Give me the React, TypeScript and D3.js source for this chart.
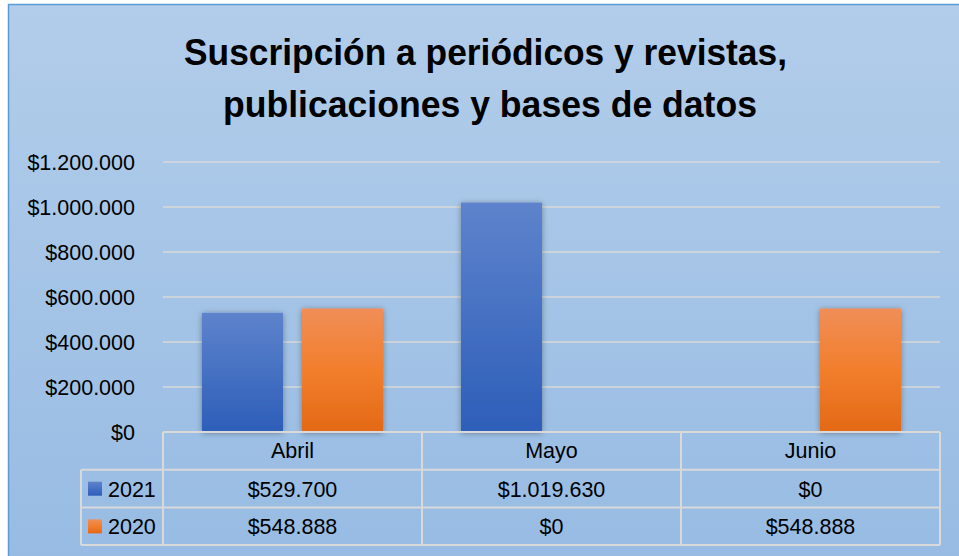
import React from "react";
import * as d3 from "d3";

const categories = ["Abril", "Mayo", "Junio"];
const seriesNames = ["2021", "2020"];
const values2021 = [529700, 1019630, 0];
const values2020 = [548888, 0, 548888];
const yTicks = [0, 200000, 400000, 600000, 800000, 1000000, 1200000];
const titleLines = ["Suscripción a periódicos y revistas,", "publicaciones y bases de datos"];

const W = 959;
const H = 556;
const plotLeft = 163;
const plotRight = 940;
const plotTop = 162;
const plotBottom = 432;
const rowH = 37.7;
const legendLeft = 81;

const locale = d3.formatLocale({ decimal: ",", thousands: ".", grouping: [3], currency: ["$", ""] });
const fmt = locale.format("$,.0f");

const FONT = "'Liberation Sans', Arial, sans-serif";

export default function App() {
  const x = d3.scaleBand<string>().domain(categories).range([plotLeft, plotRight]).paddingInner(0).paddingOuter(0);
  const sub = d3.scaleBand<string>().domain(seriesNames).range([39, x.bandwidth() - 39]).paddingInner(0.19).paddingOuter(0);
  const y = d3.scaleLinear().domain([0, 1200000]).range([plotBottom, plotTop]);

  const seriesValues: Record<string, number[]> = { "2021": values2021, "2020": values2020 };
  const grad: Record<string, string> = { "2021": "url(#gBlue)", "2020": "url(#gOrange)" };

  const rows = [plotBottom, plotBottom + rowH, plotBottom + 2 * rowH, plotBottom + 3 * rowH];
  const lineColor = "#d9d9d9";

  return (
    <svg width={W} height={H} style={{ position: "absolute", left: 0, top: 0 }} fontFamily={FONT}>
      <defs>
        <linearGradient id="bg" x1="0" y1="0" x2="0" y2="1">
          <stop offset="0" stopColor="#b2cdea" />
          <stop offset="1" stopColor="#97bbe3" />
        </linearGradient>
        <linearGradient id="gBlue" x1="0" y1="0" x2="0" y2="1">
          <stop offset="0" stopColor="#5e83cc" />
          <stop offset="1" stopColor="#2d5eb9" />
        </linearGradient>
        <linearGradient id="gOrange" x1="0" y1="0" x2="0" y2="1">
          <stop offset="0" stopColor="#f08e58" />
          <stop offset="0.5" stopColor="#f27e2c" />
          <stop offset="1" stopColor="#e36915" />
        </linearGradient>
        <filter id="shadow" x="-30%" y="-10%" width="160%" height="120%">
          <feDropShadow dx="0" dy="1" stdDeviation="3" floodColor="#000" floodOpacity="0.35" />
        </filter>
      </defs>

      <rect x={0} y={0} width={W} height={H} fill="#ffffff" />
      <rect x={8.5} y={4.5} width={W + 10} height={H + 10} fill="url(#bg)" stroke="#5b9bd5" strokeWidth={1.5} />

      {titleLines.map((t, i) => (
        <text
          key={t}
          x={i === 0 ? 184 : 223}
          y={i === 0 ? 64.5 : 116.7}
          fontSize={36}
          fontWeight="bold"
          fill="#000"
          textLength={i === 0 ? 603 : 534}
          lengthAdjust="spacingAndGlyphs"
        >
          {t}
        </text>
      ))}

      {yTicks.filter((t) => t > 0).map((t) => (
        <line key={"g" + t} x1={plotLeft} x2={plotRight} y1={y(t)} y2={y(t)} stroke={lineColor} strokeWidth={1.5} />
      ))}

      {yTicks.map((t) => (
        <text key={"yl" + t} x={135} y={y(t) + 7.8} textAnchor="end" fontSize={21.5} fill="#000">
          {fmt(t)}
        </text>
      ))}

      {seriesNames.map((s) =>
        categories.map((c, i) => {
          const v = seriesValues[s][i];
          if (v <= 0) return null;
          return (
            <rect
              key={s + c}
              x={(x(c) as number) + (sub(s) as number)}
              y={y(v)}
              width={sub.bandwidth()}
              height={y(0) - y(v)}
              fill={grad[s]}
              filter="url(#shadow)"
            />
          );
        })
      )}

      {/* data table */}
      <g stroke={lineColor} strokeWidth={2} fill="none">
        <line x1={plotLeft} x2={plotRight} y1={rows[0]} y2={rows[0]} />
        <line x1={legendLeft} x2={plotRight} y1={rows[1]} y2={rows[1]} />
        <line x1={legendLeft} x2={plotRight} y1={rows[2]} y2={rows[2]} />
        <line x1={legendLeft} x2={plotRight} y1={rows[3]} y2={rows[3]} />
        <line x1={legendLeft} x2={legendLeft} y1={rows[1]} y2={rows[3]} />
        {categories.map((c) => (
          <line key={"v" + c} x1={x(c) as number} x2={x(c) as number} y1={rows[0]} y2={rows[3]} />
        ))}
        <line x1={plotRight} x2={plotRight} y1={rows[0]} y2={rows[3]} />
      </g>

      {categories.map((c) => (
        <text key={"h" + c} x={(x(c) as number) + x.bandwidth() / 2} y={rows[0] + 26} textAnchor="middle" fontSize={21.5} fill="#000">
          {c}
        </text>
      ))}

      {seriesNames.map((s, r) => (
        <g key={"row" + s}>
          <rect x={88} y={rows[r + 1] + 12} width={14} height={14} fill={grad[s]} />
          <text x={108} y={rows[r + 1] + 27} fontSize={21.5} fill="#000">
            {s}
          </text>
          {categories.map((c, i) => (
            <text
              key={s + "v" + c}
              x={(x(c) as number) + x.bandwidth() / 2}
              y={rows[r + 1] + 27}
              textAnchor="middle"
              fontSize={21.5}
              fill="#000"
            >
              {fmt(seriesValues[s][i])}
            </text>
          ))}
        </g>
      ))}
    </svg>
  );
}
